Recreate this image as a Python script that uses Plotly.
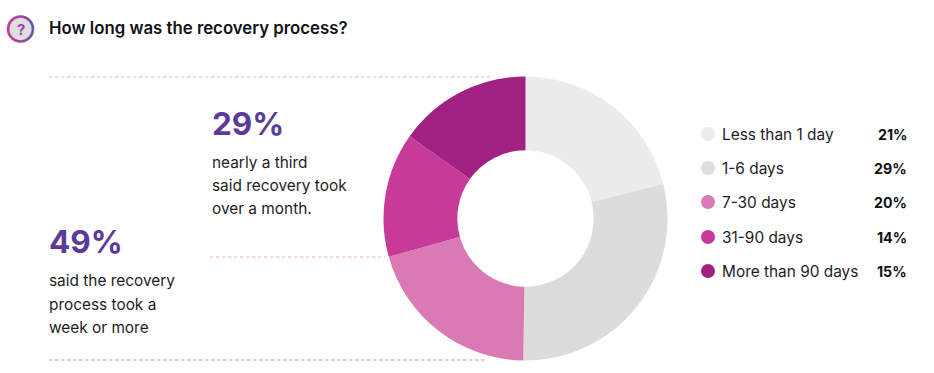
import math
import plotly.graph_objects as go

categories = ["Less than 1 day", "1-6 days", "7-30 days", "31-90 days", "More than 90 days"]
values = [21, 29, 20.3, 14.1, 15.1]
value_labels = ["21%", "29%", "20%", "14%", "15%"]
colors = ["#ececec", "#dcdcda", "#d97ab5", "#c73a97", "#a02182"]

W, H = 934, 373
cx, cy, R = 525.5, 218.5, 142
FONT = "Inter"
DARK = "#1d1d26"
PURPLE = "#5b3a9b"

legend_x = 708
legend_text_x = 722
legend_val_x = 907
legend_y = [134, 168, 202, 237, 271]

fig = go.Figure()
fig.add_trace(go.Pie(
    values=values, labels=categories, sort=False, direction="clockwise", rotation=0,
    hole=0.48, marker=dict(colors=colors, line=dict(width=0)), textinfo="none",
    showlegend=False, hoverinfo="label+percent",
    domain=dict(x=[(cx - R) / W, (cx + R) / W], y=[1 - (cy + R) / H, 1 - (cy - R) / H]),
))
fig.add_trace(go.Scatter(
    x=[legend_x] * len(categories), y=legend_y, mode="markers",
    marker=dict(size=14, color=colors, line=dict(width=0)),
    showlegend=False, hoverinfo="skip",
))

shapes = []
def dash(x0, x1, y, color):
    shapes.append(dict(type="line", x0=x0, x1=x1, y0=y, y1=y, xref="x", yref="y", layer="below",
                       line=dict(color=color, width=1.2, dash="3.3px,2.7px")))
dash(49, 490, 77, "#eda9d0")
dash(210, 385, 257, "#eda9d0")
dash(49, 487, 360, "#c98ab4")

# question-mark badge: grey disc with a magenta-to-violet ring
bx, by, br = 20.5, 29, 12.5
shapes.append(dict(type="circle", x0=bx - br, x1=bx + br, y0=by - br, y1=by + br, xref="x", yref="y",
                   fillcolor="#dedde0", line=dict(width=0)))
N = 36
c0, c1 = (200, 58, 150), (112, 80, 170)
for i in range(N):
    a0, a1 = 2 * math.pi * i / N, 2 * math.pi * (i + 1.2) / N
    t = (math.cos((a0 + a1) / 2) + 1) / 2
    col = "rgb(%d,%d,%d)" % tuple(round(p + (q - p) * t) for p, q in zip(c0, c1))
    path = "M %.2f %.2f L %.2f %.2f" % (
        bx + br * math.cos(a0), by + br * math.sin(a0), bx + br * math.cos(a1), by + br * math.sin(a1))
    shapes.append(dict(type="path", path=path, xref="x", yref="y", line=dict(color=col, width=2.6)))

ann = []
def text(x, y, s, size, color=DARK, weight=400, anchor="left"):
    ann.append(dict(x=x, y=y, xref="x", yref="y", text=s, showarrow=False, xanchor=anchor, yanchor="middle",
                    align=anchor, font=dict(family=FONT, size=size, color=color, weight=weight),
                    borderpad=0, borderwidth=0))

text(20.5, 29, "?", 15, "#a03fa5", 700, "center")
text(49, 28, "How long was the recovery process?", 16.8, "#111118", 600)
text(212, 123, "29%", 31.5, PURPLE, 700)
text(212, 162, "nearly a third", 15.4)
text(212, 185, "said recovery took", 15.4)
text(212, 208, "over a month.", 15.4)
text(49, 241, "49%", 31.5, PURPLE, 700)
text(49, 280, "said the recovery", 15.4)
text(49, 304, "process took a", 15.4)
text(49, 327, "week or more", 15.4)
for c, v, y in zip(categories, value_labels, legend_y):
    text(legend_text_x, y, c, 15.4)
    text(legend_val_x, y, v, 14.2, "#111118", 700, "right")

fig.update_layout(
    width=W, height=H, margin=dict(l=0, r=0, t=0, b=0),
    paper_bgcolor="white", plot_bgcolor="rgba(0,0,0,0)", showlegend=False,
    xaxis=dict(range=[0, W], visible=False, domain=[0, 1], fixedrange=True),
    yaxis=dict(range=[H, 0], visible=False, domain=[0, 1], fixedrange=True),
    shapes=shapes, annotations=ann,
)
fig.write_html("out.html", config=dict(displayModeBar=False),
               post_script="document.body.style.margin='0';document.documentElement.style.overflow='hidden';")
